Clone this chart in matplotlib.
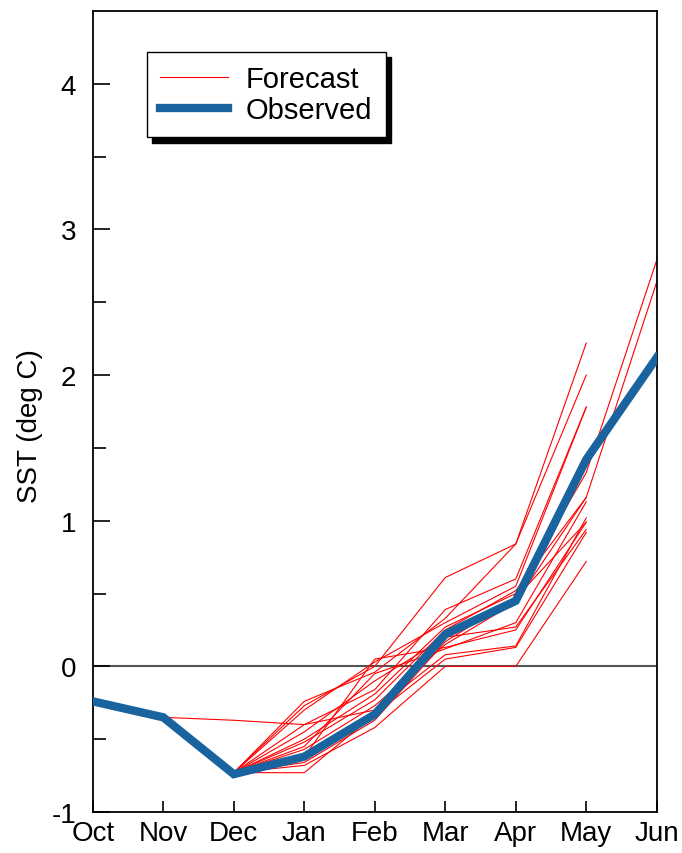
import numpy as np
import matplotlib.pyplot as plt

plt.rcParams['font.family'] = ['Liberation Sans', 'DejaVu Sans']
plt.rcParams['axes.unicode_minus'] = False

months = ["Oct", "Nov", "Dec", "Jan", "Feb", "Mar", "Apr", "May", "Jun"]
observed = [-0.24, -0.35, -0.74, -0.62, -0.33, 0.22, 0.45, 1.42, 2.12]

# forecast runs: (start month index, values)
fc_start = [1, 2, 2, 2, 2, 2, 2, 2, 2, 2, 2, 2, 2, 2]
fc_values = [
    [-0.35, -0.37, -0.40, -0.30, 0.08, 0.14, 1.02],
    [-0.73, -0.24, -0.04, 0.33, 0.84, 2.22],
    [-0.73, -0.27, 0.00, 0.61, 0.84, 2.00],
    [-0.73, -0.40, -0.16, 0.39, 0.60, 1.78],
    [-0.73, -0.50, -0.19, 0.27, 0.50, 1.33, 2.79],
    [-0.73, -0.57, -0.27, 0.15, 0.44, 1.16, 2.64],
    [-0.73, -0.68, -0.42, 0.00, 0.00, 0.72],
    [-0.73, -0.73, -0.33, 0.05, 0.13, 0.92],
    [-0.73, -0.62, 0.05, 0.13, 0.25, 0.99],
    [-0.73, -0.45, -0.10, 0.20, 0.27, 0.94],
    [-0.73, -0.52, -0.23, 0.25, 0.52, 1.16],
    [-0.73, -0.66, -0.37, 0.17, 0.47, 0.99],
    [-0.73, -0.30, 0.03, 0.30, 0.55, 1.78],
    [-0.73, -0.55, -0.05, 0.12, 0.30, 1.13],
]

fig = plt.figure(figsize=(6.82, 8.54), dpi=100)
ax = fig.add_axes([0.136, 0.048, 0.827, 0.938])

ax.axhline(0, color='#555555', lw=1.5, zorder=1)

for i, (s, vals) in enumerate(zip(fc_start, fc_values)):
    x = np.arange(s, s + len(vals))
    ax.plot(x, vals, color='red', lw=0.8, zorder=2,
            label='Forecast' if i == 0 else None)

ax.plot(np.arange(len(observed)), observed, color='#19639e', lw=6,
        solid_joinstyle='miter', zorder=3, label='Observed')

ax.set_xlim(0, len(months) - 1)
ax.set_ylim(-1, 4.5)
ax.set_xticks(np.arange(len(months)))
ax.set_xticklabels(months)
ax.set_xticks([3, 6], minor=True)
ax.set_yticks([-1, 0, 1, 2, 3, 4])
ax.set_yticks(np.arange(-0.5, 4.5, 1.0), minor=True)

ax.tick_params(axis='x', which='major', direction='in', length=8, width=1.2,
               labelsize=20, pad=6)
ax.tick_params(axis='x', which='minor', direction='in', length=11, width=1.2)
ax.tick_params(axis='y', which='major', direction='in', length=12, width=1.2,
               labelsize=20, pad=12)
ax.tick_params(axis='y', which='minor', direction='in', length=9, width=1.2)

for sp in ax.spines.values():
    sp.set_linewidth(1.3)

ax.set_ylabel("SST (deg C)", fontsize=20)
ax.yaxis.set_label_coords(-0.089, 0.483)

leg = ax.legend(loc='upper left', bbox_to_anchor=(0.0957, 0.949),
                borderaxespad=0, fontsize=21, fancybox=False,
                edgecolor='black', framealpha=1, handlelength=2.35,
                handletextpad=0.6, labelspacing=0.1, borderpad=0.45,
                shadow={'color': 'black', 'alpha': 1, 'ox': 4, 'oy': -4})
leg.get_frame().set_linewidth(1.0)

fig.savefig("out.png", dpi=100)
